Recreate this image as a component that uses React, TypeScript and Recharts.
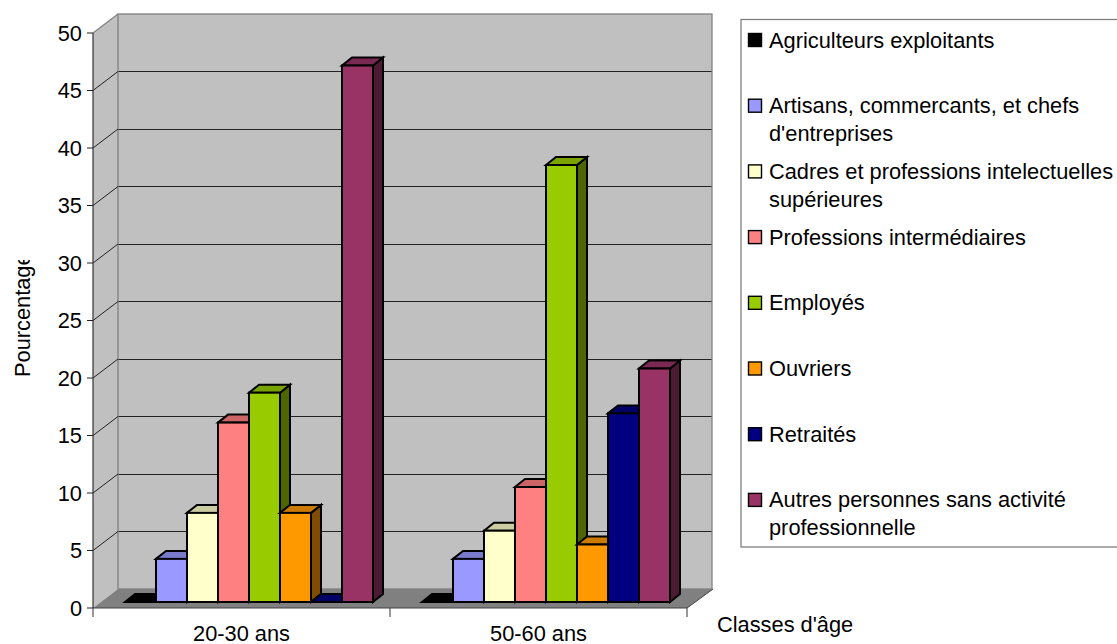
import * as React from "react";
import { BarChart, Bar, XAxis, YAxis, CartesianGrid } from "recharts";

const CATEGORIES = ["20-30 ans", "50-60 ans"];
const Y_TICKS = [0, 5, 10, 15, 20, 25, 30, 35, 40, 45, 50];

const AGRICULTEURS = [0, 0];
const ARTISANS = [3.75, 3.75];
const CADRES = [7.75, 6.2];
const INTERMEDIAIRES = [15.6, 10];
const EMPLOYES = [18.2, 38];
const OUVRIERS = [7.75, 5];
const RETRAITES = [0, 16.4];
const AUTRES = [46.65, 20.3];

const SERIES = [
  { key: "agriculteurs", values: AGRICULTEURS, color: "#000000", lines: ["Agriculteurs exploitants"] },
  { key: "artisans", values: ARTISANS, color: "#9999FF", lines: ["Artisans, commercants, et chefs", "d'entreprises"] },
  { key: "cadres", values: CADRES, color: "#FFFFCC", lines: ["Cadres et professions intelectuelles", "supérieures"] },
  { key: "intermediaires", values: INTERMEDIAIRES, color: "#FF8080", lines: ["Professions intermédiaires"] },
  { key: "employes", values: EMPLOYES, color: "#99CC00", lines: ["Employés"] },
  { key: "ouvriers", values: OUVRIERS, color: "#FF9900", lines: ["Ouvriers"] },
  { key: "retraites", values: RETRAITES, color: "#000080", lines: ["Retraités"] },
  { key: "autres", values: AUTRES, color: "#993366", lines: ["Autres personnes sans activité", "professionnelle"] },
];

const chartData = CATEGORIES.map((name, i) => {
  const row: Record<string, number | string> = { name };
  SERIES.forEach(s => {
    row[s.key] = s.values[i];
  });
  return row;
});

const FONT = "'Liberation Sans', Arial, sans-serif";
const FONT_SIZE = 21.8;

// front plane of the fake 3D box
const LEFT = 93;
const RIGHT = 687;
const TOP = 33;
const BOTTOM = 608;
// how far the back wall and the bars sit behind the front plane
const WALL_DX = 25;
const WALL_DY = 19;
const BAR_DX = 9;
const BAR_DY = 6;
const BAR_DEPTH_X = 10;
const BAR_DEPTH_Y = 8;

const yOf = (v: number) => BOTTOM - (v / 50) * (BOTTOM - TOP);
const bandWidth = (RIGHT - LEFT) / CATEGORIES.length;

function shade(hex: string, k: number) {
  const n = parseInt(hex.slice(1), 16);
  const c = [(n >> 16) & 255, (n >> 8) & 255, n & 255].map(v => Math.round(v * k));
  return `rgb(${c[0]},${c[1]},${c[2]})`;
}

function Bar3D(props: any) {
  const { x, y, width, height, fill } = props;
  const fx = x + BAR_DX;
  const fy = y - BAR_DY;
  const topFace = `${fx},${fy} ${fx + BAR_DEPTH_X},${fy - BAR_DEPTH_Y} ${fx + width + BAR_DEPTH_X},${fy - BAR_DEPTH_Y} ${fx + width},${fy}`;
  const sideFace = `${fx + width},${fy} ${fx + width + BAR_DEPTH_X},${fy - BAR_DEPTH_Y} ${fx + width + BAR_DEPTH_X},${fy + height - BAR_DEPTH_Y} ${fx + width},${fy + height}`;
  return (
    <g stroke="#000" strokeWidth={2} strokeLinejoin="miter">
      <polygon points={sideFace} fill={shade(fill, 0.5)} />
      <polygon points={topFace} fill={shade(fill, 0.8)} />
      <rect x={fx} y={fy} width={width} height={height} fill={fill} />
    </g>
  );
}

// side wall, floor and the back wall outline; the back wall fill comes from CartesianGrid
function Walls() {
  return (
    <g>
      <polygon
        points={`${LEFT},${TOP} ${LEFT + WALL_DX},${TOP - WALL_DY} ${LEFT + WALL_DX},${BOTTOM - WALL_DY} ${LEFT},${BOTTOM}`}
        fill="#C0C0C0"
      />
      <rect
        x={LEFT + WALL_DX}
        y={TOP - WALL_DY}
        width={RIGHT - LEFT}
        height={BOTTOM - TOP}
        fill="none"
        stroke="#808080"
        strokeWidth={1.3}
      />
      <polygon
        points={`${LEFT},${BOTTOM} ${RIGHT},${BOTTOM} ${RIGHT + WALL_DX + 1},${BOTTOM - WALL_DY} ${LEFT + WALL_DX},${BOTTOM - WALL_DY}`}
        fill="#808080"
      />
      <line x1={LEFT} y1={TOP} x2={LEFT + WALL_DX} y2={TOP - WALL_DY} stroke="#808080" strokeWidth={1.2} />
      <line x1={RIGHT} y1={BOTTOM} x2={RIGHT + WALL_DX + 1} y2={BOTTOM - WALL_DY} stroke="#404040" strokeWidth={1} />
      {Y_TICKS.slice(1, -1).map(t => (
        <line key={t} x1={LEFT} y1={yOf(t)} x2={LEFT + WALL_DX} y2={yOf(t) - WALL_DY} stroke="#222" strokeWidth={1} />
      ))}
    </g>
  );
}

function Decorations() {
  return (
    <g>
      {[0, 1, 2].map(i => (
        <line
          key={i}
          x1={LEFT + i * bandWidth}
          y1={BOTTOM}
          x2={LEFT + i * bandWidth}
          y2={BOTTOM + 9}
          stroke="#333"
          strokeWidth={1}
        />
      ))}
      <defs>
        <clipPath id="ylabel-clip">
          <rect x={0} y={260} width={60} height={130} />
        </clipPath>
      </defs>
      <g clipPath="url(#ylabel-clip)">
        <text
          transform="translate(30,377) rotate(-90)"
          fontFamily={FONT}
          fontSize={FONT_SIZE}
          fill="#000"
        >
          Pourcentage
        </text>
      </g>
      <text x={717} y={632} fontFamily={FONT} fontSize={FONT_SIZE} fill="#000">
        Classes d'âge
      </text>
    </g>
  );
}

function ChartLegend() {
  return (
    <svg width={1117} height={644} style={{ position: "absolute", left: 0, top: 0, pointerEvents: "none" }}>
      <rect x={741} y={19.5} width={380} height={527.5} fill="#fff" stroke="#808080" strokeWidth={1.3} />
      {SERIES.map((s, i) => {
        const cy = 40 + i * 65.7;
        return (
          <g key={s.key}>
            <rect x={748.5} y={cy - 6.5} width={13} height={13} fill={s.color} stroke="#000" strokeWidth={1.4} />
            {s.lines.map((line, j) => (
              <text key={j} x={769} y={cy + 7.5 + j * 28} fontFamily={FONT} fontSize={FONT_SIZE} fill="#000">
                {line}
              </text>
            ))}
          </g>
        );
      })}
    </svg>
  );
}

export default function App() {
  return (
    <div style={{ position: "absolute", left: 0, top: 0, width: 1117, height: 644, background: "#fff", overflow: "hidden" }}>
      <BarChart
        width={1117}
        height={644}
        data={chartData}
        margin={{ top: TOP, right: 1117 - RIGHT, bottom: 644 - BOTTOM - 1, left: LEFT - 1 }}
        barCategoryGap={23}
        barGap={0}
      >
        <CartesianGrid
          x={LEFT + WALL_DX}
          y={TOP - WALL_DY}
          width={RIGHT - LEFT}
          height={BOTTOM - TOP}
          fill="#C0C0C0"
          fillOpacity={1}
          vertical={false}
          horizontalPoints={Y_TICKS.slice(1, -1).map(t => Math.floor(yOf(t) - WALL_DY) + 0.5)}
          stroke="#222"
          strokeWidth={1}
        />
        <Walls />
        <XAxis
          dataKey="name"
          height={1}
          tickLine={false}
          tickMargin={12}
          axisLine={{ stroke: "#404040", strokeWidth: 1.2 }}
          tick={{ fontSize: FONT_SIZE, fontFamily: FONT, fill: "#000" }}
        />
        <YAxis
          width={1}
          domain={[0, 50]}
          ticks={Y_TICKS}
          interval={0}
          tickSize={6}
          tickMargin={5}
          axisLine={{ stroke: "#333", strokeWidth: 1.2 }}
          tickLine={{ stroke: "#222" }}
          tick={{ fontSize: FONT_SIZE, fontFamily: FONT, fill: "#000" }}
        />
        {SERIES.map(s => (
          <Bar key={s.key} dataKey={s.key} fill={s.color} shape={Bar3D} isAnimationActive={false} />
        ))}
        <Decorations />
      </BarChart>
      <ChartLegend />
    </div>
  );
}
